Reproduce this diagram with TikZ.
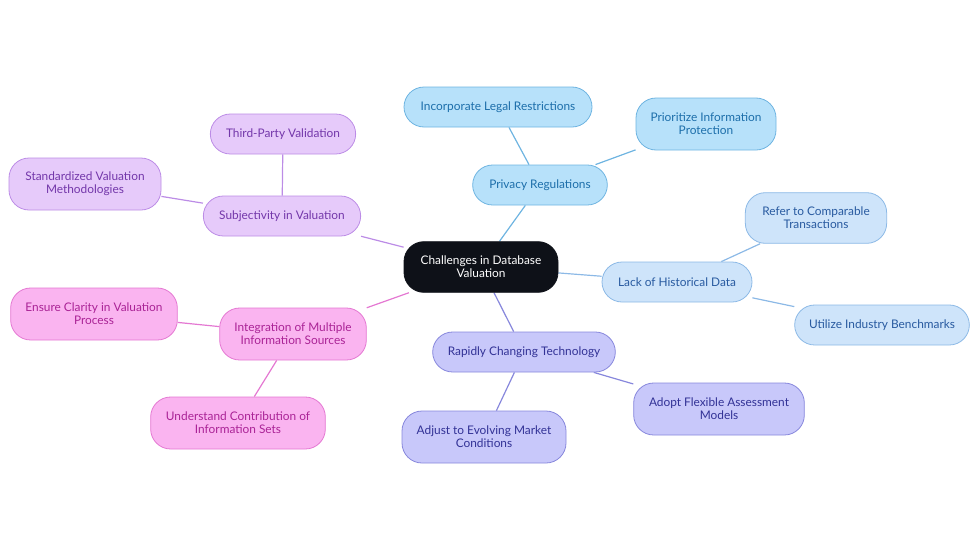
\documentclass[tikz,border=0pt]{standalone}
\usepackage{fontspec}
\setmainfont{Lato}
\usetikzlibrary{backgrounds}
\definecolor{rootfill}{RGB}{14,17,24}
\definecolor{privfill}{RGB}{183,225,250}
\definecolor{privline}{RGB}{110,180,225}
\definecolor{privtext}{RGB}{28,110,170}
\definecolor{histfill}{RGB}{206,228,250}
\definecolor{histline}{RGB}{140,185,230}
\definecolor{histtext}{RGB}{40,90,160}
\definecolor{techfill}{RGB}{200,200,250}
\definecolor{techline}{RGB}{135,135,220}
\definecolor{techtext}{RGB}{50,50,150}
\definecolor{intgfill}{RGB}{250,180,240}
\definecolor{intgline}{RGB}{228,120,210}
\definecolor{intgtext}{RGB}{170,35,150}
\definecolor{subjfill}{RGB}{230,202,250}
\definecolor{subjline}{RGB}{188,140,230}
\definecolor{subjtext}{RGB}{115,55,170}

\tikzset{
    box/.style={rounded corners=15, align=center, inner sep=0pt,
        font=\fontsize{8.9}{10}\selectfont, line width=0.6pt},
    rootbox/.style={box, fill=rootfill, draw=rootfill, text=white},
    privbox/.style={box, fill=privfill, draw=privline, text=privtext},
    histbox/.style={box, fill=histfill, draw=histline, text=histtext},
    techbox/.style={box, fill=techfill, draw=techline, text=techtext},
    intgbox/.style={box, fill=intgfill, draw=intgline, text=intgtext},
    subjbox/.style={box, fill=subjfill, draw=subjline, text=subjtext},
    link/.style={line width=0.9pt}
}

\begin{document}
\begin{tikzpicture}[x=0.75pt, y=-0.75pt]
    \useasboundingbox (0,0) rectangle (980,553);

    % central topic
    \node[rootbox, minimum width=115.5pt, minimum height=38pt] (root) at (481,267) {Challenges in Database\\Valuation};

    % privacy branch
    \node[privbox, minimum width=101pt, minimum height=30pt] (priv) at (540,185) {Privacy Regulations};
    \node[privbox, minimum width=141pt, minimum height=30pt] (legal) at (498,107) {Incorporate Legal Restrictions};
    \node[privbox, minimum width=105pt, minimum height=39pt] (protect) at (706,124) {Prioritize Information\\Protection};

    % history branch
    \node[histbox, minimum width=112.5pt, minimum height=30pt] (hist) at (677,282) {Lack of Historical Data};
    \node[histbox, minimum width=106pt, minimum height=38pt] (compar) at (816,218) {Refer to Comparable\\Transactions};
    \node[histbox, minimum width=131pt, minimum height=30pt] (bench) at (882,325) {Utilize Industry Benchmarks};

    % technology branch
    \node[techbox, minimum width=137pt, minimum height=30pt] (tech) at (524,352) {Rapidly Changing Technology};
    \node[techbox, minimum width=128pt, minimum height=39pt] (flex) at (719,409) {Adopt Flexible Assessment\\Models};
    \node[techbox, minimum width=123pt, minimum height=39pt] (market) at (484,437) {Adjust to Evolving Market\\Conditions};

    % integration branch
    \node[intgbox, minimum width=110pt, minimum height=39pt] (intg) at (293,334) {Integration of Multiple\\Information Sources};
    \node[intgbox, minimum width=125pt, minimum height=39pt] (clarity) at (94,314) {Ensure Clarity in Valuation\\Process};
    \node[intgbox, minimum width=131pt, minimum height=39pt] (contrib) at (238,423) {Understand Contribution of\\Information Sets};

    % subjectivity branch
    \node[subjbox, minimum width=118pt, minimum height=30pt] (subj) at (282,216) {Subjectivity in Valuation};
    \node[subjbox, minimum width=109pt, minimum height=30pt] (third) at (283,134) {Third-Party Validation};
    \node[subjbox, minimum width=114pt, minimum height=39pt] (std) at (85,184) {Standardized Valuation\\Methodologies};

    % connectors
    \begin{scope}[on background layer]
        \draw[link, privline] (root) -- (priv);
        \draw[link, privline] (priv) -- (legal);
        \draw[link, privline] (priv) -- (protect);
        \draw[link, histline] (root) -- (hist);
        \draw[link, histline] (hist) -- (compar);
        \draw[link, histline] (hist) -- (bench);
        \draw[link, techline] (root) -- (tech);
        \draw[link, techline] (tech) -- (flex);
        \draw[link, techline] (tech) -- (market);
        \draw[link, intgline] (root) -- (intg);
        \draw[link, intgline] (intg) -- (clarity);
        \draw[link, intgline] (intg) -- (contrib);
        \draw[link, subjline] (root) -- (subj);
        \draw[link, subjline] (subj) -- (third);
        \draw[link, subjline] (subj) -- (std);
    \end{scope}
\end{tikzpicture}
\end{document}
